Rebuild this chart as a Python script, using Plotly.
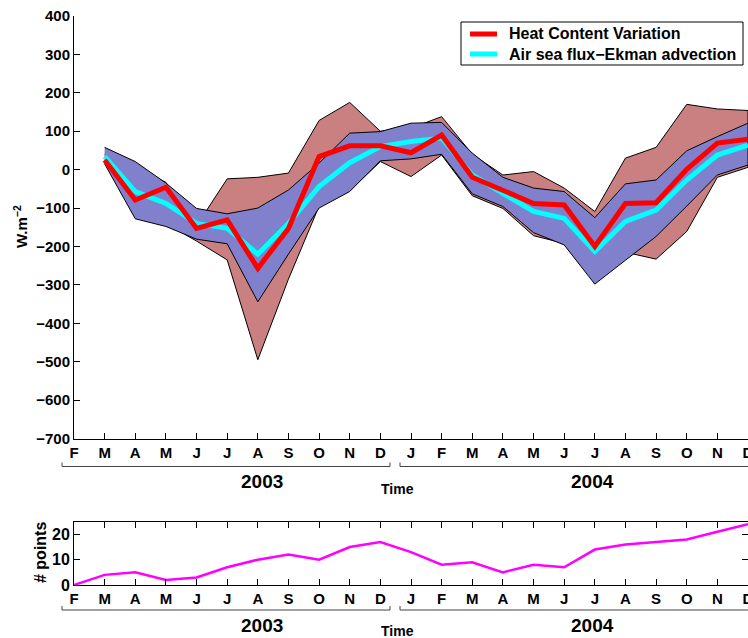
import plotly.graph_objects as go

# months Feb 2003 .. Dec 2004
months = ["F", "M", "A", "M", "J", "J", "A", "S", "O", "N", "D",
          "J", "F", "M", "A", "M", "J", "J", "A", "S", "O", "N", "D"]
idx = list(range(len(months)))
idx_s = idx[1:]  # band/line series start in March 2003

heat = [25, -79, -46, -153, -131, -257, -153, 34, 62, 62, 44,
        90, -20, -53, -88, -92, -200, -88, -86, 1, 69, 79]
flux = [34, -57, -88, -140, -153, -220, -140, -44, 18, 60, 73,
        82, -14, -61, -109, -127, -213, -135, -105, -27, 38, 64]
blue_hi = [58, 21, -35, -101, -115, -100, -53, 17, 95, 99, 121,
           123, 43, -20, -48, -57, -125, -37, -27, 49, 86, 121]
blue_lo = [15, -128, -148, -181, -193, -344, -220, -100, -57, 23, 28,
           40, -63, -96, -164, -196, -298, -236, -174, -95, -14, 12]
brown_hi = [40, 5, -33, -146, -24, -20, -9, 128, 175, 100, 108,
            138, 40, -14, -5, -48, -109, 30, 58, 170, 158, 154]
brown_lo = [18, -110, -140, -186, -235, -495, -285, -95, -55, 21, -18,
            38, -68, -101, -172, -192, -255, -215, -233, -161, -20, 6]
npoints = [0, 4, 5, 2, 3, 7, 10, 12, 10, 15, 17,
           13, 8, 9, 5, 8, 7, 14, 16, 17, 18, 21, 24]

legend_names = ["Heat Content Variation", "Air sea flux\u2212Ekman advection"]
legend_colors = ["#FF0000", "#00FFFF"]

W, H = 748, 638
L, R = 74, 0
PW = W - L - R


def py(p):
    return 1 - p / H


def px(p):
    return (p - L) / PW


fnt = dict(family="Liberation Sans, Arial", size=15, color="black", weight="bold")

fig = go.Figure()

fig.add_trace(go.Scatter(x=idx_s + idx_s[::-1], y=brown_hi + brown_lo[::-1],
                         fill="toself", fillcolor="rgb(202,128,128)",
                         line=dict(color="black", width=1), mode="lines",
                         showlegend=False, hoverinfo="skip"))
fig.add_trace(go.Scatter(x=idx_s + idx_s[::-1], y=blue_hi + blue_lo[::-1],
                         fill="toself", fillcolor="rgb(128,128,204)",
                         line=dict(color="black", width=1), mode="lines",
                         showlegend=False, hoverinfo="skip"))
fig.add_trace(go.Scatter(x=idx_s, y=flux, mode="lines", name=legend_names[1],
                         line=dict(color=legend_colors[1], width=5), showlegend=False))
fig.add_trace(go.Scatter(x=idx_s, y=heat, mode="lines", name=legend_names[0],
                         line=dict(color=legend_colors[0], width=5), showlegend=False))
fig.add_trace(go.Scatter(x=idx, y=npoints, mode="lines", xaxis="x2", yaxis="y2",
                         line=dict(color="#FF00FF", width=2.5), showlegend=False))

xcommon = dict(range=[0, 22], tickmode="array", tickvals=idx, ticktext=months,
               ticks="inside", ticklen=6, tickcolor="black", showline=True,
               linecolor="black", linewidth=1, showgrid=False, zeroline=False,
               tickfont=fnt, automargin=False, ticklabeloverflow="allow")

fig.update_layout(
    width=W, height=H,
    margin=dict(l=L, r=R, t=0, b=0),
    paper_bgcolor="white", plot_bgcolor="white",
    font=fnt,
    showlegend=False,
    xaxis=dict(domain=[0, 1], anchor="y", **xcommon),
    yaxis=dict(domain=[py(438.5), py(16)], range=[-700, 400],
               tickvals=list(range(-700, 401, 100)),
               ticks="inside", ticklen=6, tickcolor="black", showline=True,
               linecolor="black", linewidth=1, showgrid=False, zeroline=False,
               tickfont=fnt, automargin=False, ticklabeloverflow="allow"),
    xaxis2=dict(domain=[0, 1], anchor="y2", mirror="ticks", **xcommon),
    yaxis2=dict(domain=[py(585), py(521.7)], range=[0, 25], tickvals=[0, 10, 20],
                anchor="x2", ticks="inside", ticklen=6, tickcolor="black", showline=True,
                mirror="ticks", linecolor="black", linewidth=1, showgrid=False,
                zeroline=False, tickfont=dict(fnt, size=16), automargin=False,
                ticklabeloverflow="allow"),
)

ann = []
ann.append(dict(text="W.m<sup>\u22122</sup>", x=px(20), y=py(227), textangle=-90,
                font=dict(fnt, size=15)))
ann.append(dict(text="# points", x=px(40), y=py(553), textangle=-90,
                font=dict(fnt, size=16)))
for k in (0, 1):
    yy = (481.5, 625)[k]
    ty = (489, 631)[k]
    ann.append(dict(text="2003", x=px(262), y=py(yy), font=dict(fnt, size=19)))
    ann.append(dict(text="2004", x=px(592), y=py(yy), font=dict(fnt, size=19)))
    ann.append(dict(text="Time", x=px(397), y=py(ty), font=dict(fnt, size=14)))

shapes = []
# legend box
shapes.append(dict(type="rect", xref="paper", yref="paper",
                   x0=px(461), x1=px(743), y0=py(65), y1=py(22),
                   line=dict(color="black", width=1), fillcolor="white"))
for i, (name, col) in enumerate(zip(legend_names, legend_colors)):
    yl = (34, 54)[i]
    shapes.append(dict(type="line", xref="paper", yref="paper",
                       x0=px(470), x1=px(497), y0=py(yl), y1=py(yl),
                       line=dict(color=col, width=5)))
    ann.append(dict(text=name, x=px(507), y=py(yl), xanchor="left",
                    font=dict(fnt, size=16)))

for a in ann:
    a.setdefault("xanchor", "center")
    a.update(xref="paper", yref="paper", showarrow=False, yanchor="middle")

# year brackets under month labels
for yb in (466.5, 610):
    for x0, x1 in ((62, 390), (400, 760)):
        path = "M %f,%f L %f,%f L %f,%f L %f,%f" % (
            px(x0), py(yb - 4), px(x0), py(yb), px(x1), py(yb), px(x1), py(yb - 4))
        shapes.append(dict(type="path", path=path, xref="paper", yref="paper",
                           line=dict(color="#444444", width=1)))

fig.update_layout(annotations=ann, shapes=shapes)

# page body has a default margin; drop it so the figure sits at the window corner
fig.write_html("out.html", config={"displayModeBar": False}, post_script=(
    "document.documentElement.style.overflow='hidden';"
    "document.body.style.margin='0';document.body.style.overflow='hidden';"))
